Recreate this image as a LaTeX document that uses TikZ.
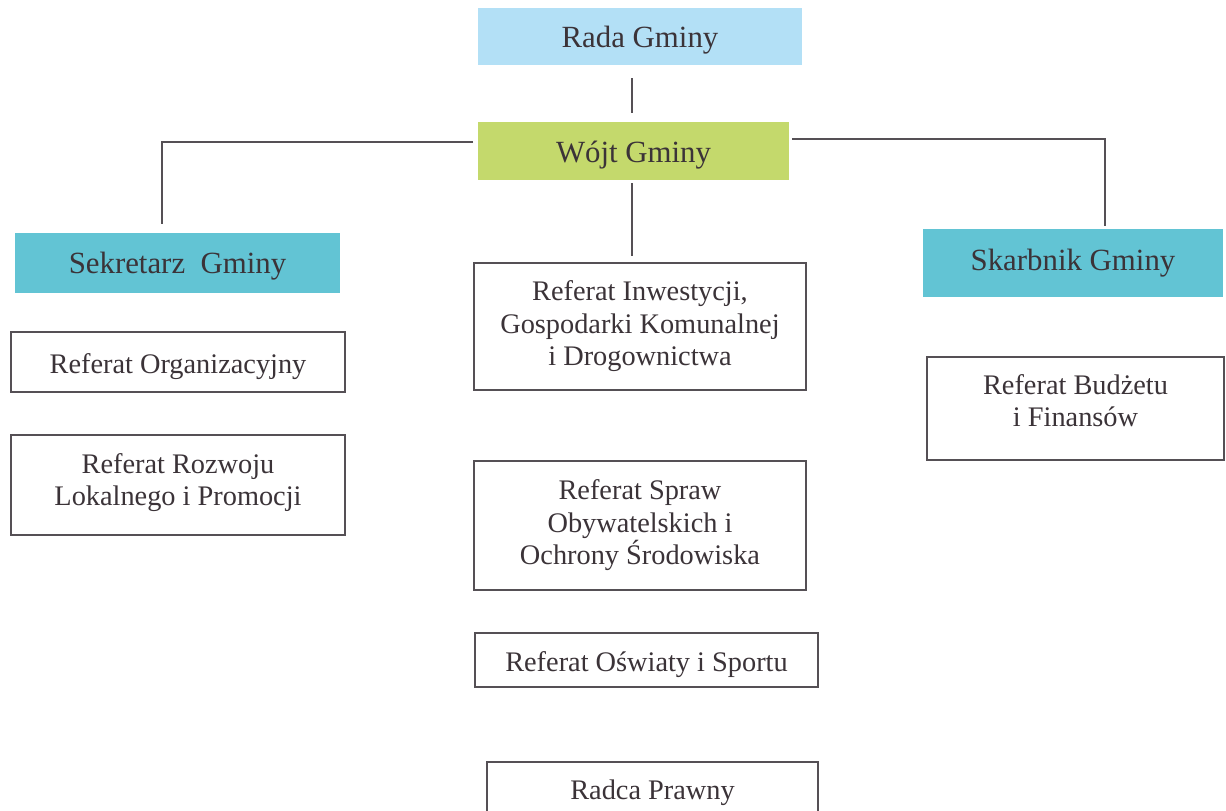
\documentclass[tikz,border=0pt]{standalone}
\usepackage{fontspec}
\setmainfont{Liberation Serif}
\definecolor{txt}{HTML}{3B3338}
\definecolor{edge}{HTML}{555055}
\definecolor{radafill}{HTML}{B3E0F6}
\definecolor{wojtfill}{HTML}{C4D96C}
\definecolor{tealfill}{HTML}{62C4D4}
\begin{document}
\begin{tikzpicture}[x=0.6pt,y=-0.6pt,
  wh/.style 2 args={minimum width=#1*0.6pt, minimum height=#2*0.6pt},
  oneline/.style={text height=#1, text depth=2pt},
  oneline/.default=16pt,
  head/.style={inner sep=0pt, text=txt, font=\fontsize{18.5}{22}\selectfont},
  unit/.style={draw=edge, line width=0.7pt, inner sep=0pt, text=txt, align=center,
    font=\fontsize{17}{19.5}\selectfont},
  link/.style={draw=edge, line width=0.8pt}]
\useasboundingbox (0,0) rectangle (1226,810);
\clip (0,0) rectangle (1226,810);
\fill[white] (0,0) rectangle (1226,810);
% top level
\node[head, oneline=15.5pt, fill=radafill, wh={324}{57}] (rada) at (640,36.5) {Rada Gminy};
\node[head, oneline=15.5pt, fill=wojtfill, wh={311}{58}] (wojt) at (633.5,151) {Wójt Gminy};
\node[head, oneline=14.5pt, fill=tealfill, wh={325}{60}] (sekr) at (177.5,263) {Sekretarz\ \ Gminy};
\node[head, fill=tealfill, wh={300}{68}] (skarb) at (1073,263) {Skarbnik Gminy};
% units
\node[unit, oneline, wh={334}{60}] (org) at (178,362) {Referat Organizacyjny};
\node[unit, text depth=6.3pt, wh={334}{100}] (rozw) at (178,485) {Referat Rozwoju\\Lokalnego i Promocji};
\node[unit, wh={332}{127}] (inw) at (640,326.5) {Referat Inwestycji,\\Gospodarki Komunalnej\\i Drogownictwa};
\node[unit, text depth=9.7pt, wh={297}{103}] (bud) at (1075.5,408.5) {Referat Budżetu\\i Finansów};
\node[unit, wh={332}{129}] (spraw) at (640,525.5) {Referat Spraw\\Obywatelskich i\\Ochrony Środowiska};
\node[unit, oneline, wh={343}{54}] (osw) at (646.5,660) {Referat Oświaty i Sportu};
\node[unit, oneline=13.6pt, wh={331}{56}] (radca) at (652.5,790) {Radca Prawny};
% connector end points
\coordinate (r1) at (632,78);
\coordinate (r2) at (632,113);
\coordinate (l0) at (473,142);
\coordinate (l1) at (162,142);
\coordinate (l2) at (162,224);
\coordinate (p0) at (792,139);
\coordinate (p1) at (1105,139);
\coordinate (p2) at (1105,226);
\coordinate (c1) at (632,183);
\coordinate (c2) at (632,256);
\draw[link] (r1) -- (r2);
\draw[link] (l0) -- (l1) -- (l2);
\draw[link] (p0) -- (p1) -- (p2);
\draw[link] (c1) -- (c2);
\end{tikzpicture}
\end{document}
